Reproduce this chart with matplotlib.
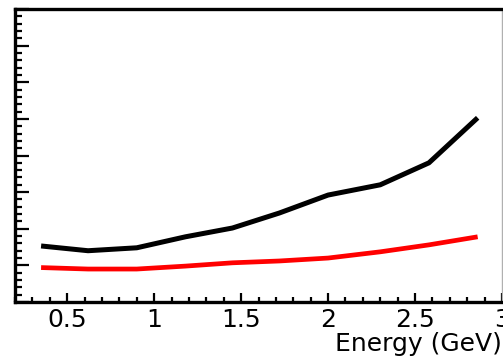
import matplotlib
matplotlib.use("Agg")
import matplotlib.pyplot as plt
from matplotlib.ticker import MultipleLocator, NullFormatter

# energy bin centres (GeV) and the two curves
energy = [0.35, 0.62, 0.90, 1.18, 1.45, 1.72, 2.00, 2.30, 2.58, 2.86]
black_vals = [1.53, 1.40, 1.48, 1.78, 2.02, 2.43, 2.92, 3.20, 3.80, 5.03]
red_vals = [0.94, 0.90, 0.90, 0.98, 1.07, 1.12, 1.20, 1.37, 1.56, 1.78]

fig = plt.figure(figsize=(5.03, 3.61), dpi=100)
ax = fig.add_axes([15 / 503, 59 / 361, 487 / 503, 293 / 361])

ax.plot(energy, black_vals, color="black", lw=3.6, solid_capstyle="butt")
ax.plot(energy, red_vals, color="red", lw=3.4, solid_capstyle="butt")

ax.set_xlim(0.2, 3.0)
ax.set_ylim(0, 8)

ax.xaxis.set_major_locator(MultipleLocator(0.5))
ax.xaxis.set_minor_locator(MultipleLocator(0.1))
ax.yaxis.set_major_locator(MultipleLocator(1))
ax.yaxis.set_minor_locator(MultipleLocator(0.2))
ax.yaxis.set_major_formatter(NullFormatter())

ax.tick_params(axis="x", which="major", direction="in", length=6.5, width=1.6,
               labelsize=18, pad=4, top=False)
ax.tick_params(axis="x", which="minor", direction="in", length=3.3, width=1.6, top=False)
ax.tick_params(axis="y", which="major", direction="in", length=10, width=1.6, right=False)
ax.tick_params(axis="y", which="minor", direction="in", length=5, width=1.6, right=False)

ax.set_xticks([0.5, 1, 1.5, 2, 2.5, 3])
ax.set_xticklabels(["0.5", "1", "1.5", "2", "2.5", "3"])

for side in ("left", "bottom", "top"):
    ax.spines[side].set_linewidth(2.4)
ax.spines["right"].set_linewidth(1.0)
ax.spines["right"].set_color("#b0b0b0")

ax.set_xlabel("Energy (GeV)", fontsize=18, loc="right", labelpad=0)

fig.savefig("out.png", dpi=100)
